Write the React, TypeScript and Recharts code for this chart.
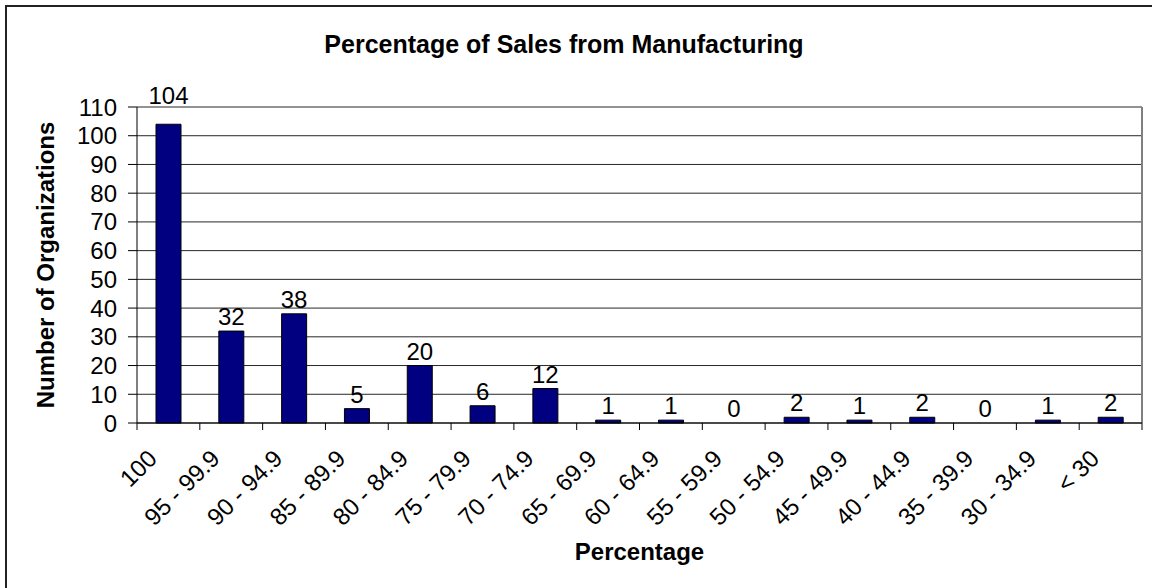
import React from "react";
import {
  Bar,
  BarChart,
  CartesianGrid,
  Cell,
  LabelList,
  ReferenceLine,
  XAxis,
  YAxis,
} from "recharts";

const categories = [
  "100",
  "95 - 99.9",
  "90 - 94.9",
  "85 - 89.9",
  "80 - 84.9",
  "75 - 79.9",
  "70 - 74.9",
  "65 - 69.9",
  "60 - 64.9",
  "55 - 59.9",
  "50 - 54.9",
  "45 - 49.9",
  "40 - 44.9",
  "35 - 39.9",
  "30 - 34.9",
  "< 30",
];
const organizations = [104, 32, 38, 5, 20, 6, 12, 1, 1, 0, 2, 1, 2, 0, 1, 2];
const yTicks = [0, 10, 20, 30, 40, 50, 60, 70, 80, 90, 100, 110];

const data = categories.map((name, i) => ({ name, count: organizations[i] }));

const FONT = '"Liberation Sans", Arial, sans-serif';
const PLOT_TOP = 107;

// ticks sit between the bars (Excel style), labels under the bar centers
const CategoryTick = (props: any) => {
  const { x, y, payload, index, visibleTicksCount } = props;
  const half = payload?.offset ?? 31.4;
  const last = index === visibleTicksCount - 1;
  const ax = x - 10;
  const ay = y + 37;
  return (
    <g>
      <line x1={x - half} x2={x - half} y1={y} y2={y + 7} stroke="#000" />
      {last && <line x1={x + half} x2={x + half} y1={y} y2={y + 7} stroke="#000" />}
      <text
        x={ax}
        y={ay}
        textAnchor="end"
        fontSize={24}
        fontFamily={FONT}
        fill="#000"
        transform={`rotate(-45 ${ax} ${ay})`}
      >
        {payload.value}
      </text>
    </g>
  );
};

// value above the bar; pushed above the top gridline when it would cross it
const ValueLabel = (props: any) => {
  const { x, y, width, value } = props;
  let base = y - 6;
  if (base - 17 < PLOT_TOP) base = PLOT_TOP - 3;
  return (
    <text
      x={x + width / 2}
      y={base}
      textAnchor="middle"
      fontSize={24}
      fontFamily={FONT}
      fill="#000"
    >
      {value}
    </text>
  );
};

export default function App() {
  return (
    <div
      style={{
        position: "absolute",
        left: 0,
        top: 0,
        width: 1152,
        height: 588,
        overflow: "hidden",
        background: "#fff",
      }}
    >
      <div
        style={{
          position: "absolute",
          left: 5,
          top: 5,
          width: 1200,
          height: 640,
          borderLeft: "2px solid #222",
          borderTop: "2px solid #222",
        }}
      />
      <div
        style={{
          position: "absolute",
          left: 0,
          width: 1128,
          top: 30,
          textAlign: "center",
          fontFamily: FONT,
          fontWeight: "bold",
          fontSize: 25,
          lineHeight: "28px",
        }}
      >
        Percentage of Sales from Manufacturing
      </div>
      <BarChart
        width={1152}
        height={588}
        data={data}
        margin={{ top: PLOT_TOP, right: 10, left: 0, bottom: 0 }}
        barSize={25}
        style={{ position: "absolute", left: 0, top: 0 }}
      >
        <CartesianGrid yAxisId="left" vertical={false} stroke="#000" strokeOpacity={0.85} />
        <XAxis
          dataKey="name"
          interval={0}
          height={165}
          stroke="#000"
          tickSize={0}
          tickMargin={0}
          tickLine={false}
          tick={<CategoryTick />}
          label={{
            content: ({ viewBox }: any) => (
              <text
                x={viewBox.x + viewBox.width / 2}
                y={viewBox.y + 137}
                textAnchor="middle"
                fontSize={24}
                fontWeight="bold"
                fontFamily={FONT}
                fill="#000"
              >
                Percentage
              </text>
            ),
          }}
        />
        <YAxis
          yAxisId="left"
          width={137}
          domain={[0, 110]}
          ticks={yTicks}
          interval={0}
          stroke="#000"
          tickSize={9}
          tickMargin={11}
          tick={{ fontSize: 24, fill: "#000", fontFamily: FONT }}
          label={{
            content: ({ viewBox }: any) => {
              const cx = viewBox.x + 45;
              const cy = viewBox.y + viewBox.height / 2;
              return (
                <text
                  x={cx}
                  y={cy}
                  textAnchor="middle"
                  dominantBaseline="central"
                  fontSize={24}
                  fontWeight="bold"
                  fontFamily={FONT}
                  fill="#000"
                  transform={`rotate(-90 ${cx} ${cy})`}
                >
                  Number of Organizations
                </text>
              );
            },
          }}
        />
        <ReferenceLine
          yAxisId="left"
          x={categories[categories.length - 1]}
          position="end"
          stroke="#808080"
          strokeWidth={2}
        />
        <Bar
          yAxisId="left"
          dataKey="count"
          fill="#000080"
          stroke="#000"
          strokeWidth={1}
          minPointSize={0.01}
          isAnimationActive={false}
        >
          {organizations.map((v, i) => (
            <Cell
              key={i}
              fill={v === 0 ? "none" : "#000080"}
              stroke={v === 0 ? "none" : "#000"}
            />
          ))}
          <LabelList dataKey="count" content={<ValueLabel />} />
        </Bar>
      </BarChart>
    </div>
  );
}
